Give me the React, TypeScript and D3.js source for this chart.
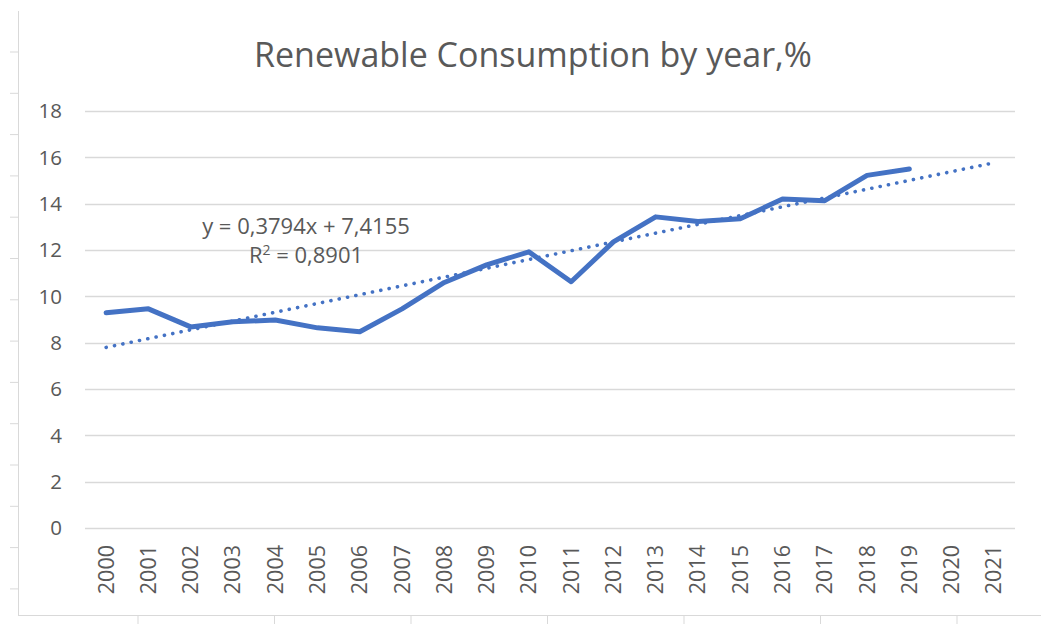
import React from "react";
import * as d3 from "d3";

const years = ["2000","2001","2002","2003","2004","2005","2006","2007","2008","2009","2010","2011","2012","2013","2014","2015","2016","2017","2018","2019","2020","2021"];
const consumption = [9.29, 9.46, 8.68, 8.9, 8.98, 8.64, 8.47, 9.46, 10.6, 11.36, 11.92, 10.63, 12.35, 13.43, 13.23, 13.35, 14.2, 14.13, 15.22, 15.5];
const yTicks = [0, 2, 4, 6, 8, 10, 12, 14, 16, 18];
const trendSlope = 0.3794;
const trendIntercept = 7.4155;
const title = "Renewable Consumption by year,%";
const eqLine1 = "y = 0,3794x + 7,4155";
const eqR2 = "0,8901";

const W = 1041;
const H = 624;
const FONT = "'Open Sans', 'Liberation Sans', sans-serif";
const TEXT = "#595959";
const BLUE = "#4472C4";
const GRID = "#d9d9d9";

export default function App() {
  const x = d3.scaleBand<string>().domain(years).range([85, 1015]).padding(0);
  const y = d3.scaleLinear().domain([0, 18]).range([528, 111]);
  const cx = (yr: string) => (x(yr) as number) + x.bandwidth() / 2;

  const line = d3
    .line<number>()
    .x((_, i) => cx(years[i]))
    .y((d) => y(d));

  const trendVals = years.map((_, i) => trendSlope * (i + 1) + trendIntercept);
  const trendPath = line(trendVals) || "";
  const dataPath = line(consumption) || "";

  // sheet background frame (spreadsheet cell guides)
  const leftTicks = d3.range(14).map((k) => 52 + k * 41.3);
  const bottomTicks = d3.range(7).map((k) => 138 + k * 136.5);

  return (
    <svg width={W} height={H} style={{ position: "absolute", left: 0, top: 0, background: "#fff" }}>
      <rect x={0} y={0} width={W} height={H} fill="#fff" />
      {/* frame */}
      <line x1={18.5} y1={11} x2={18.5} y2={615.5} stroke={GRID} strokeWidth={1} />
      <line x1={18} y1={615.5} x2={W} y2={615.5} stroke={GRID} strokeWidth={1} />
      {leftTicks.map((t, i) => (
        <line key={"lt" + i} x1={10} y1={t} x2={18} y2={t} stroke={GRID} strokeWidth={1} />
      ))}
      {bottomTicks.map((t, i) => (
        <line key={"bt" + i} x1={t} y1={616} x2={t} y2={H} stroke={GRID} strokeWidth={1} />
      ))}

      {/* title */}
      <text x={533} y={67} textAnchor="middle" fontFamily={FONT} fontSize={34} fill={TEXT}>
        {title}
      </text>

      {/* gridlines */}
      {yTicks.map((t) => (
        <line key={"g" + t} x1={85} x2={1015} y1={Math.round(y(t)) + 0.5} y2={Math.round(y(t)) + 0.5} stroke={GRID} strokeWidth={1.3} />
      ))}

      {/* y tick labels */}
      {yTicks.map((t) => (
        <text key={"yl" + t} x={62} y={y(t)} dy="0.35em" textAnchor="end" fontFamily={FONT} fontSize={20.5} fill={TEXT}>
          {t}
        </text>
      ))}

      {/* x tick labels */}
      {years.map((yr) => (
        <text
          key={"xl" + yr}
          transform={`translate(${cx(yr)},${545}) rotate(-90)`}
          textAnchor="end"
          dy="0.35em"
          fontFamily={FONT}
          fontSize={21.5}
          fill={TEXT}
        >
          {yr}
        </text>
      ))}

      {/* trend line */}
      <path d={trendPath} fill="none" stroke={BLUE} strokeWidth={3.6} strokeDasharray="0.1 8.4" strokeLinecap="round" />

      {/* data line */}
      <path d={dataPath} fill="none" stroke={BLUE} strokeWidth={5} strokeLinejoin="round" strokeLinecap="round" />

      {/* equation */}
      <text x={306} y={234} textAnchor="middle" fontFamily={FONT} fontSize={22} fill={TEXT}>
        {eqLine1}
      </text>
      <text x={306} y={263} textAnchor="middle" fontFamily={FONT} fontSize={22} fill={TEXT}>
        R<tspan dy={-8} fontSize={14}>2</tspan>
        <tspan dy={8}>{" = " + eqR2}</tspan>
      </text>
    </svg>
  );
}
